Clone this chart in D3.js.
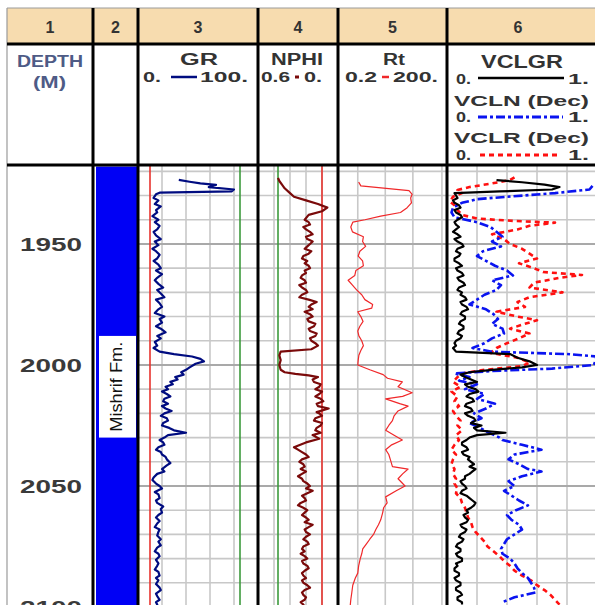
<!DOCTYPE html>
<html>
<head>
<meta charset="utf-8">
<script src="https://cdn.jsdelivr.net/npm/d3@7"></script>
<style>
  body { margin: 0; background: #fff; }
  svg { display: block; font-family: "Liberation Sans", Arial, sans-serif; }
</style>
</head>
<body>
<div id="chart"></div>
<script>
// ---- Data ----
const trackNumbers = ["1", "2", "3", "4", "5", "6"];
const depthLabels = [1950, 2000, 2050, 2100];
const gridDepths = [1920, 1930, 1940, 1950, 1960, 1970, 1980, 1990, 2000, 2010,
  2020, 2030, 2040, 2050, 2060, 2070, 2080, 2090, 2100];
const depthRange = [1918, 2100];

const grRange = [0, 100];
const nphiRange = [0.6, 0];
const rtRange = [0.2, 200];
const vclRange = [0, 1];

const grGrid = [20, 40, 60, 80];
const nphiGrid = [0.48, 0.36, 0.24, 0.12];
const rtGrid = [0.7, 4, 23, 145];
const vclGrid = [0.2, 0.4, 0.6, 0.8];

// cutoff lines (red / green)
const grCutoffs = [10, 85];
const nphiCutoffs = [0.12, 0.45];

const formation = { name: "Mishrif Fm.", top: 1918, base: 2100, labelTop: 1988, labelBase: 2030 };

// curves: [depth (m), value]
const grCurve = [[1923.5,34],[1924.3,43],[1925,52],[1925.6,65],[1926.5,59],[1927.5,80],[1928.3,78],[1928.8,18],
  [1929.5,15],[1931,13],[1932,17],[1933.5,14],[1934.5,19],[1936,15],[1937,16],[1938.5,12],[1940,17],
  [1941,14],[1942.5,18],[1944,16],[1945,13],[1946.5,15],[1948,19],[1949,14],[1950.5,17],[1952,12],
  [1953,15],[1954.5,18],[1956,16],[1957,13],[1958.5,17],[1960,19],[1961,15],[1962.5,20],[1964,16],
  [1965,14],[1966.5,17],[1968,21],[1969,16],[1970.5,19],[1972,22],[1973,15],[1974.5,18],[1976,20],
  [1977,17],[1978.5,14],[1980,22],[1981,18],[1982.5,20],[1984,15],[1985,19],[1986.5,23],[1988,16],
  [1989,19],[1990.5,14],[1992,16],[1993,13],[1994.5,18],[1995.5,30],[1996.5,45],[1997.5,52],[1998.5,55],
  [1999.5,48],[2001,43],[2002,40],[2003,36],[2004,38],[2005,31],[2006,33],[2007,27],[2008,29],[2009,23],
  [2010,25],[2011,20],[2012,24],[2013,27],[2014,22],[2015,21],[2016,25],[2017,20],[2018,23],[2019,28],
  [2020,22],[2021,19],[2022,24],[2023,25],[2024,21],[2025,20],[2026,26],[2027,30],[2028,40],[2029,25],
  [2030,22],[2031,18],[2032,21],[2033,22],[2034,17],[2035,15],[2036,19],[2037,20],[2038,23],[2039,24],
  [2040.5,27],[2041.5,24],[2043,20],[2044,22],[2045,16],[2046.5,13],[2047.5,12],[2049,15],[2050,18],
  [2051,20],[2052.5,14],[2053.5,17],[2055,18],[2056,15],[2057,16],[2058.5,21],[2059.5,19],[2061,20],
  [2062,17],[2063,15],[2064.5,18],[2065.5,16],[2067,14],[2068,18],[2069,17],[2070.5,16],[2072,19],
  [2073,17],[2074.5,19],[2075.5,16],[2077,14],[2078,17],[2079,18],[2080.5,15],[2082,17],[2083,16],
  [2084.5,14],[2085.5,17],[2087,18],[2088,15],[2089,17],[2090.5,15],[2092,18],[2093,19],[2094.5,15],
  [2095.5,16],[2097,18],[2098,15],[2099,16],[2101,17]];

const nphiCurve = [[1922.7,0.45],[1924,0.44],[1925.5,0.42],[1927,0.40],[1929,0.36],[1930.5,0.33],[1932,0.24],
  [1933.5,0.15],[1935,0.08],[1936.5,0.12],[1938,0.22],[1940,0.25],[1941,0.22],[1942,0.21],[1943,0.26],
  [1944,0.24],[1945,0.21],[1946,0.19],[1947,0.24],[1948,0.23],[1949,0.19],[1950,0.21],[1951,0.23],
  [1952,0.25],[1953,0.20],[1954,0.22],[1955,0.26],[1956,0.27],[1957,0.23],[1958,0.25],[1959,0.22],
  [1960,0.21],[1961,0.25],[1962,0.24],[1963,0.27],[1964,0.28],[1965,0.25],[1966,0.24],[1967,0.29],
  [1968,0.27],[1969,0.24],[1970,0.23],[1971,0.27],[1972,0.29],[1973,0.22],[1974,0.16],[1975,0.20],
  [1976,0.22],[1977,0.19],[1978,0.25],[1979,0.21],[1980,0.19],[1981,0.23],[1982,0.22],[1983,0.17],
  [1984,0.18],[1985,0.22],[1986,0.21],[1987,0.16],[1988,0.17],[1989,0.21],[1990,0.20],[1991,0.17],
  [1992,0.15],[1993.5,0.20],[1994.5,0.43],[1996,0.44],[1998,0.43],[2000,0.44],[2002,0.43],[2003,0.40],
  [2003.7,0.32],[2004.3,0.22],[2005,0.15],[2006,0.19],[2007,0.18],[2008,0.13],[2009,0.14],[2010,0.17],
  [2011,0.12],[2012,0.14],[2013,0.17],[2014,0.13],[2015,0.11],[2016,0.16],[2017,0.15],[2018,0.07],
  [2019.5,0.16],[2020,0.14],[2021,0.12],[2022,0.17],[2023,0.18],[2024,0.12],[2025,0.13],[2026,0.16],
  [2027,0.17],[2028,0.13],[2029,0.19],[2030.5,0.14],[2032,0.24],[2034,0.33],[2035,0.30],[2036,0.27],
  [2037,0.24],[2038,0.22],[2039,0.27],[2040,0.29],[2041,0.26],[2042,0.25],[2043,0.28],[2044,0.24],
  [2045,0.27],[2046,0.30],[2047,0.27],[2048,0.26],[2049,0.23],[2050,0.21],[2051,0.24],[2052,0.19],
  [2053,0.23],[2054,0.27],[2055,0.25],[2056,0.24],[2057,0.28],[2058,0.30],[2059,0.26],[2060,0.23],
  [2061,0.25],[2062,0.27],[2063,0.24],[2064,0.22],[2065,0.25],[2066,0.19],[2067,0.22],[2068,0.25],
  [2069,0.24],[2070,0.21],[2071,0.24],[2072,0.26],[2073,0.23],[2074,0.22],[2075,0.26],[2076,0.27],
  [2077,0.25],[2078,0.28],[2079,0.25],[2080,0.23],[2081,0.27],[2082,0.26],[2083,0.23],[2084,0.22],
  [2085,0.25],[2086,0.27],[2087,0.26],[2088,0.24],[2089,0.27],[2090,0.26],[2091,0.23],[2092,0.21],
  [2093,0.25],[2094,0.27],[2095,0.26],[2096,0.24],[2097,0.25],[2098,0.28],[2099,0.26],[2100,0.25]];

const rtCurve = [[1924.4,0.74],[1926,0.85],[1928,18],[1929.5,22],[1931,20],[1933,21],[1935,16],[1937,10.5],
  [1938.5,3],[1940,1.1],[1941,0.51],[1943,0.45],[1945,0.5],[1947,1.0],[1949,0.95],[1951,1.15],[1953,0.8],
  [1955,0.72],[1957,0.95],[1959,1.0],[1961,0.62],[1963,0.58],[1965,0.38],[1967,0.5],[1969,0.65],
  [1971,0.9],[1973,1.1],[1975,1.8],[1976.5,1.7],[1978,0.7],[1980,0.85],[1982,0.98],[1984,0.8],[1986,0.7],
  [1988,0.75],[1990,0.9],[1992,1.0],[1994,0.85],[1996,0.75],[1998,0.72],[2000,0.7],[2002,1.5],[2004,3.5],
  [2005.5,4.6],[2007,11.8],[2009,9],[2011.5,22],[2013,12],[2014,4.1],[2016,10],[2017,17],[2019,9],
  [2021,7],[2023,6.3],[2025,5],[2027,4.1],[2029,7],[2031,11.8],[2033,6],[2035,4.1],[2037,5],[2039,5.5],
  [2042,6.3],[2043,17],[2045,12],[2047,9],[2050,14],[2052,8],[2054.5,4.1],[2057,4.5],[2059,3.6],
  [2061,3.4],[2064,3.0],[2066,2.6],[2068,2.2],[2070,1.9],[2072,1.5],[2074,1.2],[2076,0.96],[2078,0.9],
  [2080,0.82],[2083,0.74],[2086,0.7],[2088,0.6],[2091,0.51],[2094,0.48],[2097,0.45],[2100,0.43]];

const vclgrCurve = [[1923.6,0.33],[1924.5,0.5],[1925.5,0.65],[1926.5,0.75],[1927.5,0.7],[1928.3,0.35],
  [1929,0.05],[1930,0.06],[1931,0.07],[1932,0.04],[1933,0.05],[1934,0.08],[1935,0.09],[1936,0.05],
  [1937,0.06],[1938,0.09],[1939,0.1],[1940,0.07],[1941,0.05],[1942,0.06],[1943,0.08],[1944,0.06],
  [1945,0.04],[1946,0.07],[1947,0.09],[1948,0.05],[1949,0.07],[1950,0.1],[1951,0.11],[1952,0.07],
  [1953,0.06],[1954,0.09],[1955,0.08],[1956,0.05],[1957,0.05],[1958,0.08],[1959,0.1],[1960,0.06],
  [1961,0.07],[1962,0.1],[1963,0.11],[1964,0.07],[1965,0.08],[1966,0.11],[1967,0.12],[1968,0.08],
  [1969,0.07],[1970,0.1],[1971,0.09],[1972,0.12],[1973,0.13],[1974,0.09],[1975,0.1],[1976,0.13],
  [1977,0.14],[1978,0.1],[1979,0.09],[1980,0.12],[1981,0.12],[1982,0.09],[1983,0.08],[1984,0.11],
  [1985,0.11],[1986,0.08],[1987,0.07],[1988,0.1],[1989,0.09],[1990,0.06],[1991,0.05],[1992,0.06],
  [1993,0.04],[1994.5,0.06],[1995.5,0.42],[1997,0.47],[1998.5,0.55],[2000,0.6],[2001,0.5],[2002,0.3],
  [2003,0.15],[2004,0.09],[2005,0.12],[2006,0.16],[2007,0.2],[2008,0.12],[2009,0.14],[2010,0.19],
  [2011,0.21],[2012,0.15],[2013,0.13],[2014,0.17],[2015,0.18],[2016,0.13],[2017,0.12],[2018,0.16],
  [2019,0.17],[2020,0.12],[2021,0.14],[2022,0.18],[2023,0.19],[2024,0.16],[2025,0.23],[2026,0.18],
  [2027,0.2],[2028,0.39],[2029,0.2],[2030,0.15],[2031,0.13],[2032,0.1],[2033,0.1],[2034,0.13],
  [2035,0.14],[2036,0.1],[2037,0.11],[2038,0.15],[2039,0.14],[2040,0.16],[2041,0.18],[2042,0.15],
  [2043,0.19],[2044,0.17],[2045,0.15],[2046,0.12],[2047,0.12],[2048,0.09],[2049,0.1],[2050,0.12],
  [2051,0.13],[2052,0.1],[2053,0.09],[2054,0.13],[2055,0.15],[2056,0.17],[2057,0.19],[2058,0.18],
  [2059,0.16],[2060,0.13],[2061,0.14],[2062,0.11],[2063,0.12],[2064,0.14],[2065,0.13],[2066,0.09],
  [2067,0.1],[2068,0.13],[2069,0.12],[2070,0.09],[2071,0.08],[2072,0.11],[2073,0.1],[2074,0.07],
  [2075,0.06],[2076,0.09],[2077,0.09],[2078,0.06],[2079,0.07],[2080,0.1],[2081,0.1],[2082,0.06],
  [2083,0.07],[2084,0.05],[2085,0.05],[2086,0.08],[2087,0.08],[2088,0.05],[2089,0.06],[2090,0.09],
  [2091,0.09],[2092,0.06],[2093,0.06],[2094,0.09],[2095,0.1],[2096,0.07],[2097,0.07],[2098,0.1],[2099,0.1]];

const vclnCurve = [[1926,0.97],[1927.5,0.95],[1929,0.72],[1930.5,0.4],[1931.5,0.2],[1933,0.1],[1935,0.04],
  [1937,0.03],[1939,0.05],[1941,0.2],[1943,0.29],[1945,0.33],[1947,0.37],[1949,0.3],[1951,0.36],
  [1953,0.24],[1955,0.2],[1957,0.26],[1959,0.32],[1961,0.4],[1963,0.44],[1965,0.3],[1967,0.36],
  [1969,0.33],[1971,0.25],[1973,0.2],[1975,0.15],[1977,0.26],[1979,0.31],[1981,0.34],[1983,0.3],
  [1985,0.37],[1987,0.38],[1989,0.3],[1991,0.25],[1993,0.17],[1994.5,0.3],[1995.5,0.8],[1996.5,1.0],
  [1998,0.99],[2000,0.98],[2001.5,0.7],[2002.5,0.3],[2003.5,0.05],[2005,0.15],[2006.5,0.08],[2008,0.2],
  [2010,0.12],[2012,0.25],[2014,0.2],[2016,0.32],[2018,0.26],[2020,0.18],[2022,0.23],[2024,0.15],
  [2026,0.22],[2028,0.28],[2030,0.35],[2031,0.37],[2033,0.5],[2035,0.63],[2037,0.45],[2039,0.41],
  [2041,0.48],[2043,0.54],[2044,0.63],[2046,0.5],[2048,0.41],[2050,0.45],[2052,0.38],[2054,0.43],
  [2056,0.48],[2058,0.54],[2060,0.46],[2062,0.4],[2064,0.43],[2066,0.48],[2068,0.5],[2070,0.45],
  [2072,0.4],[2074,0.38],[2076,0.36],[2078,0.37],[2080,0.42],[2082,0.45],[2084,0.47],[2086,0.5],
  [2088,0.54],[2090,0.56],[2092,0.58],[2094,0.59],[2096,0.45],[2098,0.37]];

const vclrCurve = [[1922.5,0.45],[1923.6,0.42],[1925,0.3],[1926.5,0.15],[1927.7,0.07],[1929,0.1],
  [1930.5,0.04],[1932.6,0.02],[1934,0.05],[1936,0.07],[1938,0.1],[1939.5,0.2],[1940.5,0.45],[1941.2,0.72],
  [1942.5,0.55],[1944,0.47],[1946,0.3],[1948,0.38],[1950,0.42],[1952,0.5],[1954,0.55],[1956,0.6],
  [1958,0.48],[1960,0.58],[1961.6,0.64],[1962.8,0.9],[1964,0.75],[1966,0.58],[1968,0.55],[1970,0.77],
  [1972,0.55],[1974,0.47],[1976,0.52],[1978,0.33],[1980,0.47],[1981.5,0.6],[1983,0.52],[1985,0.42],
  [1987,0.55],[1989,0.48],[1991,0.4],[1993,0.33],[1995,0.29],[1997,0.47],[1999,0.55],[2000.5,0.5],
  [2002,0.25],[2003.5,0.1],[2005,0.07],[2007,0.04],[2009,0.09],[2011,0.03],[2013,0.07],[2015,0.05],
  [2017,0.08],[2019,0.04],[2021,0.06],[2023,0.09],[2025,0.07],[2027,0.1],[2029,0.06],[2031,0.08],
  [2033,0.05],[2035,0.03],[2037,0.06],[2039,0.04],[2041,0.03],[2043,0.05],[2045,0.04],[2047,0.06],
  [2049,0.05],[2051,0.07],[2053,0.06],[2055,0.09],[2057,0.1],[2059,0.12],[2061,0.13],[2063,0.14],
  [2065,0.16],[2067,0.17],[2069,0.19],[2071,0.22],[2073,0.25],[2075,0.27],[2077,0.31],[2079,0.35],
  [2081,0.38],[2083,0.42],[2085,0.45],[2087,0.5],[2089,0.56],[2091,0.6],[2093,0.65],[2095,0.69],
  [2097,0.72],[2099,0.75]];

// ---- Dimensions ----
const dims = {
  width: 595,
  height: 605,
  top: 8,
  headRow: 44,     // bottom of the numbered row
  dataTop: 165,    // bottom of the curve header
  edges: [7, 93, 138, 258, 338, 447, 597],
};
const E = dims.edges;

const svg = d3.select("#chart")
  .append("svg")
  .attr("width", dims.width)
  .attr("height", dims.height);

// ---- Scales ----
const yScale = d3.scaleLinear().domain(depthRange).range([166.5, 607]);
const xGR = d3.scaleLinear().domain(grRange).range([E[2], E[3]]);
const xNPHI = d3.scaleLinear().domain(nphiRange).range([E[3], E[4]]);
const xRt = d3.scaleLog().domain(rtRange).range([E[4], E[5]]);
const xVCL = d3.scaleLinear().domain(vclRange).range([E[5], E[6]]);

// header background
svg.append("rect")
  .attr("x", E[0]).attr("y", dims.top)
  .attr("width", E[6] - E[0]).attr("height", dims.headRow - dims.top)
  .attr("fill", "#F7DCAF");

// ---- Grid ----
const grid = svg.append("g");
const tracks = [[xGR, grGrid], [xNPHI, nphiGrid], [xRt, rtGrid], [xVCL, vclGrid]];
tracks.forEach(([sc, ticks]) => {
  grid.selectAll(null)
    .data(ticks)
    .join("line")
    .attr("x1", (d) => sc(d)).attr("x2", (d) => sc(d))
    .attr("y1", dims.dataTop).attr("y2", dims.height)
    .attr("stroke", "#C8C8C8")
    .attr("stroke-width", 1.6);
});
grid.selectAll(".hgrid")
  .data(gridDepths)
  .join("line")
  .attr("class", "hgrid")
  .attr("x1", E[2]).attr("x2", E[6])
  .attr("y1", (d) => yScale(d)).attr("y2", (d) => yScale(d))
  .attr("stroke", (d) => (d % 50 === 0 ? "#A9A9A9" : "#C8C8C8"))
  .attr("stroke-width", (d) => (d % 50 === 0 ? 2 : 1.6));

// ---- Formation column ----
const fm = svg.append("g");
fm.append("rect")
  .attr("x", E[1] + 3).attr("width", E[2] - E[1] - 4)
  .attr("y", yScale(formation.top)).attr("height", yScale(formation.base) - yScale(formation.top))
  .attr("fill", "#0000F5");
fm.append("rect")
  .attr("x", E[1] + 6).attr("width", E[2] - E[1] - 8)
  .attr("y", yScale(formation.labelTop))
  .attr("height", yScale(formation.labelBase) - yScale(formation.labelTop))
  .attr("fill", "#FFFFFF");
const fmMid = yScale((formation.labelTop + formation.labelBase) / 2);
fm.append("text")
  .attr("transform", `translate(${(E[1] + E[2]) / 2 + 6}, ${fmMid}) rotate(-90)`)
  .attr("text-anchor", "middle")
  .attr("font-size", 16)
  .attr("textLength", 90)
  .attr("lengthAdjust", "spacingAndGlyphs")
  .attr("fill", "#111")
  .text(formation.name);

// ---- Cutoff lines ----
const cut = svg.append("g");
[[xGR, grCutoffs], [xNPHI, nphiCutoffs]].forEach(([sc, vals]) => {
  cut.selectAll(null)
    .data(vals)
    .join("line")
    .attr("x1", (d) => sc(d)).attr("x2", (d) => sc(d))
    .attr("y1", dims.dataTop).attr("y2", dims.height)
    .attr("stroke", (d, i) => (i === 0 ? "#E8332E" : "#3C9A3C"))
    .attr("stroke-width", 1.6);
});

// ---- Curves ----
const defs = svg.append("defs");
function clipFor(id, x0, x1) {
  defs.append("clipPath").attr("id", id)
    .append("rect")
    .attr("x", x0).attr("y", dims.dataTop)
    .attr("width", x1 - x0).attr("height", dims.height - dims.dataTop);
  return `url(#${id})`;
}

function drawCurve(data, sc, clip, color, width, dash) {
  const line = d3.line()
    .x((d) => sc(d[1]))
    .y((d) => yScale(d[0]));
  svg.append("path")
    .datum(data)
    .attr("d", line)
    .attr("clip-path", clip)
    .attr("fill", "none")
    .attr("stroke", color)
    .attr("stroke-width", width)
    .attr("stroke-linejoin", "round")
    .attr("stroke-dasharray", dash || null);
}

drawCurve(grCurve, xGR, clipFor("cGR", E[2], E[3]), "#000C80", 2.2);
drawCurve(nphiCurve, xNPHI, clipFor("cN", E[3], E[4]), "#7A0A0A", 2.2);
drawCurve(rtCurve, xRt, clipFor("cRt", E[4], E[5]), "#F0282A", 1.2);
const cV = clipFor("cV", E[5], E[6]);
drawCurve(vclrCurve, xVCL, cV, "#FF1010", 2.6, "5,4");
drawCurve(vclnCurve, xVCL, cV, "#0A14F0", 2.6, "9,3,3,3");
drawCurve(vclgrCurve, xVCL, cV, "#000000", 2.2);

// ---- Frame ----
const frame = svg.append("g");
frame.append("line")
  .attr("x1", E[0]).attr("x2", E[6]).attr("y1", dims.top).attr("y2", dims.top)
  .attr("stroke", "#9A9A9A").attr("stroke-width", 1);
frame.append("line")
  .attr("x1", E[0]).attr("x2", E[0]).attr("y1", dims.top).attr("y2", dims.height)
  .attr("stroke", "#9A9A9A").attr("stroke-width", 1.2);
frame.selectAll(".hsep")
  .data([dims.headRow, dims.dataTop])
  .join("line")
  .attr("class", "hsep")
  .attr("x1", E[0]).attr("x2", E[6])
  .attr("y1", (d) => d).attr("y2", (d) => d)
  .attr("stroke", "#000").attr("stroke-width", 3);
frame.selectAll(".vsep")
  .data(E.slice(1))
  .join("line")
  .attr("class", "vsep")
  .attr("x1", (d) => d).attr("x2", (d) => d)
  .attr("y1", dims.top).attr("y2", dims.height)
  .attr("stroke", "#000").attr("stroke-width", 3);

// ---- Header text ----
const head = svg.append("g").attr("font-weight", "bold");
head.selectAll(".num")
  .data(trackNumbers)
  .join("text")
  .attr("class", "num")
  .attr("x", (d, i) => (E[i] + E[i + 1]) / 2 + (i === 5 ? -4 : 0))
  .attr("y", 33)
  .attr("text-anchor", "middle")
  .attr("font-size", 16)
  .attr("fill", "#333")
  .text((d) => d);

function label(s, x1, x2, base, size, color) {
  head.append("text")
    .attr("x", (x1 + x2) / 2).attr("y", base)
    .attr("text-anchor", "middle")
    .attr("font-size", size)
    .attr("fill", color || "#333")
    .attr("textLength", x2 - x1)
    .attr("lengthAdjust", "spacingAndGlyphs")
    .text(s);
}
function keyLine(x1, x2, yy, color, width, dash) {
  head.append("line")
    .attr("x1", x1).attr("x2", x2).attr("y1", yy).attr("y2", yy)
    .attr("stroke", color).attr("stroke-width", width)
    .attr("stroke-dasharray", dash || null);
}

label("DEPTH", 17, 83, 67, 16, "#4E5B86");
label("(M)", 33, 66, 88, 16, "#4E5B86");

label("GR", 180, 218, 65, 16);
label("0.", 143, 161, 82, 15);
keyLine(171, 197, 77, "#000C80", 2.5);
label("100.", 200, 248, 82, 15);

label("NPHI", 271, 323, 65, 16);
label("0.6", 261, 290, 82, 15);
keyLine(295, 299, 77, "#7A0A0A", 3);
label("0.", 304, 322, 82, 15);

label("Rt", 383, 405, 65, 16);
label("0.2", 345, 377, 82, 15);
keyLine(382, 389, 77, "#F0282A", 2.5);
label("200.", 393, 438, 82, 15);

label("VCLGR", 481, 563, 68, 18);
label("0.", 456, 471, 84, 15);
keyLine(478, 564, 78, "#000", 2.5);
label("1.", 568, 589, 84, 15);

label("VCLN (Dec)", 454, 589, 106, 15);
label("0.", 456, 471, 122, 15);
keyLine(478, 563, 117, "#0A14F0", 3, "9,3,3,3");
label("1.", 568, 589, 122, 15);

label("VCLR (Dec)", 454, 589, 143, 15);
label("0.", 456, 471, 160, 15);
keyLine(480, 558, 155, "#FF1010", 3, "5,4");
label("1.", 568, 589, 160, 15);

// depth labels (2100 sits at the bottom edge, cut as in the log print)
svg.append("g")
  .selectAll("text")
  .data(depthLabels)
  .join("text")
  .attr("x", (E[0] + E[1]) / 2 + 1)
  .attr("y", (d) => yScale(d) + 7)
  .attr("text-anchor", "middle")
  .attr("font-size", 18)
  .attr("font-weight", "bold")
  .attr("fill", "#3A3A3A")
  .attr("textLength", 62)
  .attr("lengthAdjust", "spacingAndGlyphs")
  .text((d) => d);
</script>
</body>
</html>
